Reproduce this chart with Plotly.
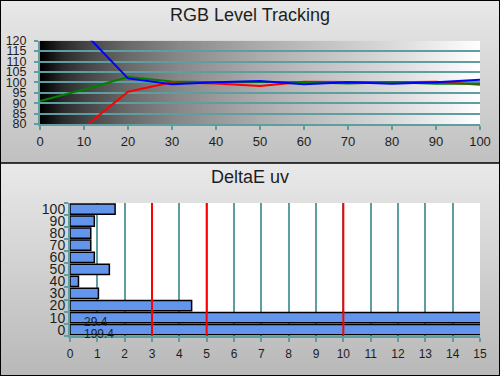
import base64
import struct
import zlib
import plotly.graph_objects as go

# ---------------- data ----------------
levels = [0, 10, 20, 30, 40, 50, 60, 70, 80, 90, 100]
red_vals = [60.0, 78.3, 95.5, 100.0, 99.5, 98.3, 100.3, 100.0, 100.0, 100.3, 98.8]
green_vals = [91.0, 96.6, 102.6, 100.4, 100.0, 100.2, 100.0, 99.5, 100.0, 99.3, 99.3]
blue_vals = [145.0, 123.9, 101.9, 99.1, 100.0, 100.7, 99.1, 100.0, 99.3, 100.0, 101.2]
rgb_yticks = [80, 85, 90, 95, 100, 105, 110, 115, 120]

de_categories = ["0", "10", "20", "30", "40", "50", "60", "70", "80", "90", "100"]
de_values = [199.4, 29.4, 4.45, 1.04, 0.31, 1.44, 0.89, 0.76, 0.76, 0.89, 1.65]
de_xticks = list(range(0, 16))
de_thresholds = [3, 5, 10]
DE_MAX = 15

# ---------------- style ----------------
FONT = "Liberation Sans, Arial, sans-serif"
TEAL = "#5f9ea0"
TXT = "#1e1e1e"
W, H = 500, 376


def png_uri(rows):
    h = len(rows)
    w = len(rows[0])
    raw = b"".join(b"\x00" + bytes(r) for r in rows)

    def chunk(t, d):
        return (struct.pack(">I", len(d)) + t + d +
                struct.pack(">I", zlib.crc32(t + d) & 0xFFFFFFFF))

    png = (b"\x89PNG\r\n\x1a\n" +
           chunk(b"IHDR", struct.pack(">IIBBBBB", w, h, 8, 0, 0, 0, 0)) +
           chunk(b"IDAT", zlib.compress(raw)) + chunk(b"IEND", b""))
    return "data:image/png;base64," + base64.b64encode(png).decode()


def interp(stops, t):
    for (p0, g0), (p1, g1) in zip(stops, stops[1:]):
        if p0 <= t <= p1:
            return int(round(g0 + (g1 - g0) * (t - p0) / (p1 - p0)))
    return stops[-1][1]


# horizontal black->white gradient behind the RGB plot
grad_stops = [(0, 0), (0.05, 42), (0.1, 68), (0.2, 106), (0.3, 133), (0.4, 153),
              (0.5, 172), (0.6, 188), (0.7, 203), (0.8, 218), (0.9, 236), (1.0, 255)]
grad_row = [interp(grad_stops, i / 255) for i in range(256)]
rgb_bg = png_uri([grad_row, grad_row])

# vertical light-grey gradients of the two panels
DIV = 163
panel_rows = []
for yy in range(H):
    if yy < DIV:
        g = interp([(0, 232), (1, 192)], yy / DIV)
    else:
        g = interp([(0, 233), (1, 184)], (yy - DIV) / (H - DIV))
    panel_rows.append([g, g])
panel_bg = png_uri(panel_rows)

fig = go.Figure()

for vals, col in [(red_vals, "#ff0000"), (green_vals, "#008000"), (blue_vals, "#0000ff")]:
    fig.add_trace(go.Scatter(x=levels, y=vals, mode="lines",
                             line=dict(color=col, width=2),
                             xaxis="x", yaxis="y", hoverinfo="skip", showlegend=False))

fig.add_trace(go.Bar(x=[min(v, DE_MAX * 1.2) for v in de_values], y=de_categories,
                     orientation="h", xaxis="x2", yaxis="y2",
                     marker=dict(color="#6495ed", line=dict(color="black", width=1.5)),
                     hoverinfo="skip", showlegend=False))

annotations = [
    dict(text="RGB Level Tracking", x=0.5, y=1 - 15 / H, xref="paper", yref="paper",
         showarrow=False, font=dict(family=FONT, size=18, color=TXT),
         xanchor="center", yanchor="middle"),
    dict(text="DeltaE uv", x=0.5, y=1 - 177 / H, xref="paper", yref="paper",
         showarrow=False, font=dict(family=FONT, size=18, color=TXT),
         xanchor="center", yanchor="middle"),
]
for i, v in enumerate(de_values):
    if v > DE_MAX:
        annotations.append(dict(text=f"{v:.1f}", x=0.45, y=i, xref="x2", yref="y2",
                                showarrow=False, xanchor="left", yanchor="middle",
                                yshift=-4, font=dict(family=FONT, size=12, color=TXT)))

shapes = [
    dict(type="rect", xref="x2 domain", yref="y2 domain", x0=0, x1=1, y0=0, y1=1,
         fillcolor="white", line=dict(width=0), layer="below"),
]
for t in de_thresholds:
    shapes.append(dict(type="line", xref="x2", yref="y2 domain", x0=t, x1=t, y0=0, y1=1,
                       line=dict(color="#ff0000", width=2), layer="above"))
shapes += [
    dict(type="line", xref="paper", yref="paper", x0=0, x1=1, y0=1 - DIV / H, y1=1 - DIV / H,
         line=dict(color="black", width=1.5), layer="above"),
    dict(type="rect", xref="paper", yref="paper", x0=0, x1=1, y0=0, y1=1,
         line=dict(color="black", width=2), layer="above"),
]

images = [
    dict(source=panel_bg, xref="paper", yref="paper", x=0, y=1, sizex=1, sizey=1,
         sizing="stretch", xanchor="left", yanchor="top", layer="below"),
    dict(source=rgb_bg, xref="x", yref="y", x=0, y=120, sizex=100, sizey=40,
         sizing="stretch", xanchor="left", yanchor="top", layer="below"),
]

axis_common = dict(showline=True, linecolor=TEAL, linewidth=2, ticks="outside",
                   tickcolor=TEAL, tickwidth=2, ticklen=4, zeroline=False,
                   automargin=False, fixedrange=True)

fig.update_layout(
    width=W, height=H, autosize=False, margin=dict(l=0, r=0, t=0, b=0, pad=0),
    paper_bgcolor="#d8d8d8", plot_bgcolor="rgba(0,0,0,0)",
    showlegend=False, bargap=0.15,
    annotations=annotations, shapes=shapes, images=images,
    xaxis=dict(domain=[40 / W, 480 / W], anchor="y", range=[0, 100],
               tickvals=levels, showgrid=False, ticklabelstandoff=0,
               tickfont=dict(family=FONT, size=13, color=TXT), **axis_common),
    yaxis=dict(domain=[1 - 124 / H, 1 - 40.7 / H], anchor="x", range=[80, 120],
               tickvals=rgb_yticks, showgrid=True, gridcolor=TEAL, gridwidth=2,
               ticklabelstandoff=5,
               tickfont=dict(family=FONT, size=12.5, color=TXT), **axis_common),
    xaxis2=dict(domain=[70 / W, 480 / W], anchor="y2", range=[0, DE_MAX],
                tickvals=de_xticks, showgrid=True, gridcolor=TEAL, gridwidth=1.5,
                ticklabelstandoff=2,
                tickfont=dict(family=FONT, size=12, color=TXT), **axis_common),
    yaxis2=dict(domain=[1 - 335.7 / H, 1 - 203 / H], anchor="x2", type="category",
                categoryorder="array", categoryarray=de_categories,
                range=[-0.5, len(de_categories) - 0.5], tickson="boundaries",
                tickmode="linear", tick0=0, dtick=1,
                showgrid=False, ticklabelstandoff=0,
                tickfont=dict(family=FONT, size=14, color=TXT), **axis_common),
)

fig.write_html(
    "out.html",
    config={"displayModeBar": False, "responsive": False},
    post_script=("document.documentElement.style.overflow='hidden';"
                 "document.body.style.overflow='hidden';"
                 "document.body.style.margin='0';document.body.style.padding='0';"),
)
